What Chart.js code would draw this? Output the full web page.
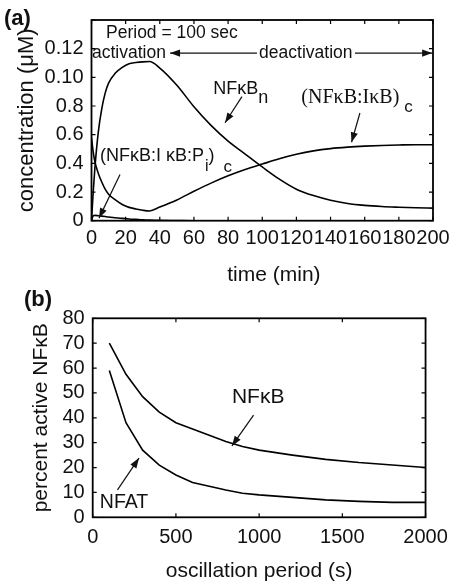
<!DOCTYPE html>
<html>
<head>
<meta charset="utf-8">
<title>NF-kB oscillation</title>
<script src="https://cdn.jsdelivr.net/npm/chart.js@4.4.1/dist/chart.umd.min.js"></script>
<style>
    html, body { margin: 0; padding: 0; background: #fff; }
    .panel { position: relative; width: 456px; }
    #panelA { height: 290px; }
    #panelB { height: 293px; }
</style>
</head>
<body>
<div class="panel" id="panelA"><canvas id="chartA"></canvas></div>
<div class="panel" id="panelB"><canvas id="chartB"></canvas></div>
<script>
// ============================================
// Data - panel (a): time course, period = 100 sec
// ============================================

const timeMin = [0, 1, 2, 4, 6, 8, 10, 14, 18, 22, 26, 30, 34, 40, 50, 60, 70, 80, 90, 100,
                 110, 120, 130, 140, 150, 160, 170, 180, 190, 200];

const nfkbNuclear = [0, 0.02, 0.037, 0.062, 0.078, 0.089, 0.096, 0.103, 0.107, 0.1095, 0.1103, 0.1108, 0.111,
                     0.1065, 0.0945, 0.0795, 0.0665, 0.0555, 0.0465, 0.0375,
                     0.029, 0.022, 0.0175, 0.0143, 0.012, 0.0107, 0.0099, 0.0094, 0.009, 0.0088];

const nfkbIkbCyto = [0.058, 0.048, 0.041, 0.033, 0.027, 0.022, 0.0185, 0.0145, 0.0113, 0.0093, 0.0082, 0.0073, 0.0068,
                     0.0095, 0.0145, 0.0205, 0.0262, 0.0313, 0.0357, 0.0395,
                     0.0432, 0.0463, 0.0487, 0.0503, 0.0513, 0.052, 0.0525, 0.0528, 0.053, 0.053];

const nfkbIkbPCyto = [0, 0.0035, 0.0037, 0.0035, 0.0032, 0.0029, 0.0026, 0.0021, 0.0016, 0.0012, 0.0009, 0.0006, 0.0004,
                      0.0002, 0.0001, 0, 0, 0, 0, 0,
                      0, 0, 0, 0, 0, 0, 0, 0, 0, 0];

// tick labels exactly as printed on the original axis
const yTickLabelsA = ['0', '0.2', '0.4', '0.6', '0.8', '0.10', '0.12', ''];

// ============================================
// Data - panel (b): percent active vs oscillation period
// ============================================

const periodSec = [100, 200, 300, 400, 500, 600, 700, 800, 900, 1000, 1200, 1400, 1600, 1800, 2000];
const nfkbActive = [70, 57.5, 48.5, 42.3, 38, 35.5, 33, 30.5, 28.5, 27, 25, 23.3, 22, 21, 20];
const nfatActive = [59, 38, 27, 21, 17, 14, 12.5, 11, 9.7, 9, 8, 7, 6.4, 6, 6];

// ============================================
// Shared style
// ============================================

const SANS = "'Liberation Sans', Arial, sans-serif";
const SERIF = "'Liberation Serif', 'Times New Roman', serif";
const INK = '#111';

Chart.defaults.font.family = SANS;
Chart.defaults.color = INK;

function toPoints(xs, ys) {
    return xs.map((x, i) => ({ x: x, y: ys[i] }));
}

function curve(label, xs, ys, smooth) {
    return {
        label: label,
        data: toPoints(xs, ys),
        borderColor: '#000',
        borderWidth: 1.6,
        pointRadius: 0,
        fill: false,
        cubicInterpolationMode: smooth ? 'monotone' : 'default',
        tension: 0
    };
}

// box around the plot + inward ticks on all four sides
const framePlugin = {
    id: 'frame',
    afterDatasetsDraw(chart) {
        const { ctx, chartArea: a, scales: { x, y } } = chart;
        const tl = 4;
        ctx.save();
        ctx.strokeStyle = '#000';
        ctx.lineWidth = 1.2;
        ctx.beginPath();
        x.ticks.forEach(t => {
            const px = x.getPixelForValue(t.value);
            ctx.moveTo(px, a.bottom); ctx.lineTo(px, a.bottom - tl);
            ctx.moveTo(px, a.top); ctx.lineTo(px, a.top + tl);
        });
        y.ticks.forEach(t => {
            const py = y.getPixelForValue(t.value);
            ctx.moveTo(a.left, py); ctx.lineTo(a.left + tl, py);
            ctx.moveTo(a.right, py); ctx.lineTo(a.right - tl, py);
        });
        ctx.stroke();
        ctx.lineWidth = 1.8;
        ctx.strokeRect(a.left, a.top, a.right - a.left, a.bottom - a.top);
        ctx.restore();
    }
};

function arrowHead(ctx, x0, y0, x1, y1) {
    const ang = Math.atan2(y1 - y0, x1 - x0), L = 10, W = 3.6;
    const bx = x1 - L * Math.cos(ang), by = y1 - L * Math.sin(ang);
    ctx.beginPath();
    ctx.moveTo(x1, y1);
    ctx.lineTo(bx + W * Math.sin(ang), by - W * Math.cos(ang));
    ctx.lineTo(bx - W * Math.sin(ang), by + W * Math.cos(ang));
    ctx.closePath();
    ctx.fill();
}

// text labels and arrows placed in data coordinates
function makeNotes(id, cfg) {
    return {
        id: id,
        afterDraw(chart) {
            const { ctx, scales: { x, y } } = chart;
            ctx.save();
            ctx.fillStyle = INK;
            ctx.strokeStyle = INK;
            ctx.textBaseline = 'alphabetic';
            ctx.textAlign = 'left';

            cfg.labels.forEach(lb => {
                let px = x.getPixelForValue(lb.x);
                const py = y.getPixelForValue(lb.y);
                if (lb.align === 'center') {
                    let w = 0;
                    lb.runs.forEach(r => { ctx.font = r.font; w += (r.dx || 0) + ctx.measureText(r.s).width; });
                    px -= w / 2;
                }
                lb.runs.forEach(r => {
                    ctx.font = r.font;
                    px += r.dx || 0;
                    ctx.fillText(r.s, px, py + (r.dy || 0));
                    px += ctx.measureText(r.s).width;
                });
            });

            ctx.lineWidth = 1.2;
            cfg.arrows.forEach(ar => {
                const x0 = x.getPixelForValue(ar.x0), y0 = y.getPixelForValue(ar.y0);
                const x1 = x.getPixelForValue(ar.x1), y1 = y.getPixelForValue(ar.y1);
                ctx.beginPath();
                ctx.moveTo(x0, y0);
                ctx.lineTo(x1, y1);
                ctx.stroke();
                arrowHead(ctx, x0, y0, x1, y1);
            });

            ctx.font = cfg.tag.font;
            ctx.fillText(cfg.tag.text, cfg.tag.px, cfg.tag.py);
            ctx.restore();
        }
    };
}

// ============================================
// Panel (a)
// ============================================

const notesA = makeNotes('notesA', {
    tag: { text: '(a)', px: 4, py: 25, font: 'bold 22px ' + SANS },
    labels: [
        { x: 8.5, y: 0.1271, runs: [{ s: 'Period = 100 sec', font: '17.5px ' + SANS }] },
        { x: 0.3, y: 0.1135, runs: [{ s: 'activation', font: '17.5px ' + SANS }] },
        { x: 125.5, y: 0.1135, align: 'center', runs: [{ s: 'deactivation', font: '17.5px ' + SANS }] },
        { x: 71.3, y: 0.0886, runs: [
            { s: 'NFκB', font: '18px ' + SANS },
            { s: 'n', dy: 9, font: '18px ' + SANS }
        ] },
        { x: 122.9, y: 0.0818, runs: [
            { s: '(NFκB:IκB)', font: '20px ' + SERIF },
            { s: 'c', dx: 5, dy: 9, font: '17px ' + SANS }
        ] },
        { x: 5.0, y: 0.0418, runs: [
            { s: '(NFκB:I κB:P', font: '18px ' + SANS },
            { s: 'i', dx: 1, dy: 10, font: '16px ' + SANS },
            { s: ')', font: '18px ' + SANS },
            { s: 'c', dx: 9, dy: 11, font: '17px ' + SANS }
        ] }
    ],
    arrows: [
        { x0: 96.9, y0: 0.1169, x1: 46, y1: 0.1169 },
        { x0: 154.3, y0: 0.1169, x1: 199.5, y1: 0.1169 },
        { x0: 88.1, y0: 0.0866, x1: 78.2, y1: 0.0683 },
        { x0: 157.2, y0: 0.0751, x1: 152.3, y1: 0.0547 },
        { x0: 16.7, y0: 0.0323, x1: 4.4, y1: 0.0018 }
    ]
});

const chartA = new Chart(document.getElementById('chartA'), {
    type: 'line',
    data: {
        datasets: [
            curve('NFκBn', timeMin, nfkbNuclear, true),
            curve('(NFκB:IκB)c', timeMin, nfkbIkbCyto, true),
            curve('(NFκB:IκB:Pi)c', timeMin, nfkbIkbPCyto, true)
        ]
    },
    options: {
        responsive: true,
        maintainAspectRatio: false,
        animation: false,
        layout: { padding: { left: 0, right: 23, top: 14, bottom: 0 } },
        plugins: { legend: { display: false }, tooltip: { enabled: false } },
        scales: {
            x: {
                type: 'linear', min: 0, max: 200,
                grid: { display: false, drawTicks: false },
                border: { display: false },
                ticks: { stepSize: 20, autoSkip: false, maxRotation: 0, padding: 5.5, font: { size: 20 },
                         callback: v => String(v) },
                title: { display: true, text: '    time (min)', font: { size: 21 }, padding: { top: 0, bottom: 2.5 } },
                afterFit: s => { s.height = 69.3; }
            },
            y: {
                min: 0, max: 0.14,
                grid: { display: false, drawTicks: false },
                border: { display: false },
                ticks: { stepSize: 0.02, autoSkip: false, padding: 8, font: { size: 20 },
                         callback: (v, i) => yTickLabelsA[i] },
                title: { display: true, text: 'concentration (μM)', font: { size: 22 }, padding: { top: 13.5, bottom: 0 } },
                afterFit: s => { s.width = 91.5; }
            }
        }
    },
    plugins: [framePlugin, notesA]
});

// ============================================
// Panel (b)
// ============================================

const notesB = makeNotes('notesB', {
    tag: { text: '(b)', px: 24, py: 16, font: 'bold 22px ' + SANS },
    labels: [
        { x: 836.6, y: 45.9, runs: [{ s: 'NFκB', font: '21px ' + SANS }] },
        { x: 43, y: 3.74, runs: [{ s: 'NFAT', font: '19.5px ' + SANS }] }
    ],
    arrows: [
        { x0: 966.5, y0: 41.1, x1: 836.6, y1: 28.7 },
        { x0: 149, y0: 11.0, x1: 278, y1: 23.8 }
    ]
});

const chartB = new Chart(document.getElementById('chartB'), {
    type: 'line',
    data: {
        datasets: [
            curve('NFκB', periodSec, nfkbActive, false),
            curve('NFAT', periodSec, nfatActive, false)
        ]
    },
    options: {
        responsive: true,
        maintainAspectRatio: false,
        animation: false,
        layout: { padding: { left: 0, right: 23, top: 28.3, bottom: 0 } },
        plugins: { legend: { display: false }, tooltip: { enabled: false } },
        scales: {
            x: {
                type: 'linear', min: 0, max: 2000,
                grid: { display: false, drawTicks: false },
                border: { display: false },
                ticks: { stepSize: 500, autoSkip: false, maxRotation: 0, padding: 8.2, font: { size: 20 },
                         callback: v => String(v) },
                title: { display: true, text: 'oscillation period (s)', font: { size: 21, lineHeight: 1 }, padding: { top: 0, bottom: 1 } },
                afterFit: s => { s.height = 65.7; }
            },
            y: {
                min: 0, max: 80,
                grid: { display: false, drawTicks: false },
                border: { display: false },
                ticks: { stepSize: 10, autoSkip: false, padding: 8, font: { size: 20 },
                         callback: v => String(v) },
                title: { display: true, text: 'percent active NFκB', font: { size: 21 }, padding: { top: 29, bottom: 0 } },
                afterFit: s => { s.width = 92.7; }
            }
        }
    },
    plugins: [framePlugin, notesB]
});
</script>
</body>
</html>
